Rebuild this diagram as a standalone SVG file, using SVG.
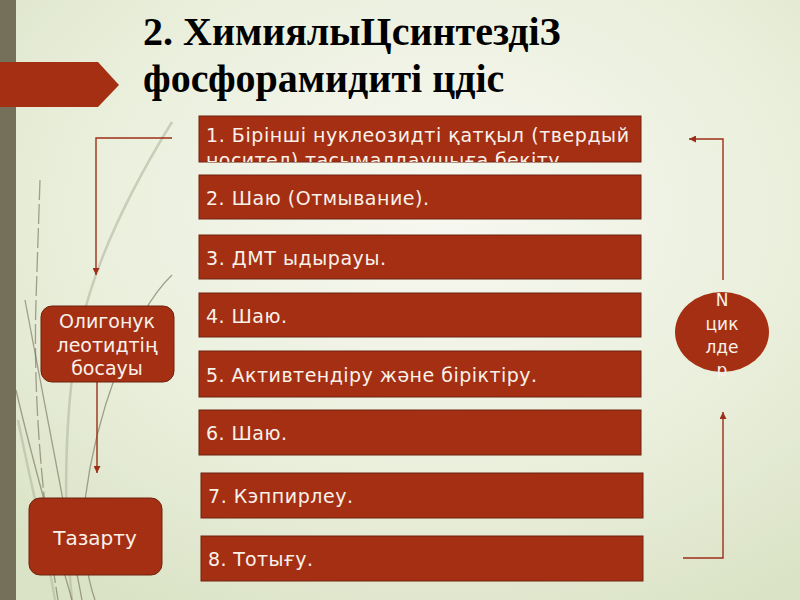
<svg xmlns="http://www.w3.org/2000/svg" width="800" height="600" viewBox="0 0 800 600">
<defs>
<radialGradient id="bg" cx="0.55" cy="0.35" r="0.75">
<stop offset="0" stop-color="#f7f8f1"/>
<stop offset="0.6" stop-color="#eaefdc"/>
<stop offset="1" stop-color="#dbe3c6"/>
</radialGradient>
<marker id="ah" viewBox="0 0 10 10" refX="10" refY="5" markerWidth="7" markerHeight="7" markerUnits="userSpaceOnUse" orient="auto">
<path d="M0,0 L10,5 L0,10 z" fill="#9c2f17"/>
</marker>
<clipPath id="c1"><rect x="199" y="116" width="442" height="46"/></clipPath>
</defs>
<style>
.box{fill:#a52f13;stroke:#6e2210;stroke-width:1}
.bt{font-family:"DejaVu Sans",Verdana,sans-serif;font-size:19px;fill:#f8f2ea}
.ct{font-family:"DejaVu Sans",Verdana,sans-serif;font-size:19px;fill:#f8f2ea;text-anchor:middle}
.con{fill:none;stroke:#9c2f17;stroke-width:1.4}
.deco{fill:none;stroke:#6f6b52;stroke-width:1.3;opacity:0.6}
.decol{fill:none;stroke:#b9bfa6;stroke-width:2.5;opacity:0.7}
.title{font-family:"Liberation Serif","Times New Roman",serif;font-size:40px;font-weight:bold;fill:#000}
</style>
<rect width="800" height="600" fill="url(#bg)"/>
<g id="decor">
<path class="decol" d="M172 122 C130 190 95 260 80 330 C65 400 62 500 72 600"/>
<path class="decol" d="M18 420 C30 480 45 540 55 600"/>
<path class="deco" d="M40 180 L36 300 C33 400 42 500 58 600" stroke-dasharray="20 4"/>
<path class="deco" d="M16 390 C30 450 52 530 72 600"/>
<path class="deco" d="M172 275 C130 315 95 420 85 500 C80 540 88 580 95 600"/>
<path class="deco" d="M25 300 C40 380 60 480 82 600"/>
<rect x="0" y="0" width="16" height="600" fill="#757059"/>
<polygon points="0,62 98,62 119,85 98,107 0,107" fill="#a52f13"/>
</g>
<g id="title">
<text class="title" x="143" y="45">2. ХимиялыЦсинтездіЗ</text>
<text class="title" x="143" y="92">фосфорамидиті цдіс</text>
</g>
<g id="connectors">
<polyline class="con" points="172,138 96,138 96,275" marker-end="url(#ah)"/>
<line class="con" x1="97" y1="382" x2="97" y2="473" marker-end="url(#ah)"/>
<polyline class="con" points="723,280 723,139 689,139" marker-end="url(#ah)"/>
<polyline class="con" points="683,558 723,558 723,412" marker-end="url(#ah)"/>
</g>
<g id="step1">
<rect class="box" x="199" y="116" width="442" height="46"/>
<g clip-path="url(#c1)">
<text class="bt" x="206" y="142" textLength="423" lengthAdjust="spacing">1. Бірінші нуклеозидті қатқыл (твердый</text>
<text class="bt" x="206" y="167" textLength="360" lengthAdjust="spacing">носител) тасымалдаушыға бекіту.</text>
</g>
</g>
<g id="step2">
<rect class="box" x="199" y="175" width="442" height="44"/>
<text class="bt" x="206" y="205" textLength="223" lengthAdjust="spacing">2. Шаю (Отмывание).</text>
</g>
<g id="step3">
<rect class="box" x="199" y="235" width="442" height="44"/>
<text class="bt" x="206" y="265" textLength="180" lengthAdjust="spacing">3. ДМТ ыдырауы.</text>
</g>
<g id="step4">
<rect class="box" x="199" y="293" width="442" height="44"/>
<text class="bt" x="206" y="323" textLength="81" lengthAdjust="spacing">4. Шаю.</text>
</g>
<g id="step5">
<rect class="box" x="199" y="351" width="442" height="46"/>
<text class="bt" x="206" y="382" textLength="331" lengthAdjust="spacing">5. Активтендіру және біріктіру.</text>
</g>
<g id="step6">
<rect class="box" x="199" y="410" width="442" height="45"/>
<text class="bt" x="206" y="440" textLength="81" lengthAdjust="spacing">6. Шаю.</text>
</g>
<g id="step7">
<rect class="box" x="201" y="473" width="442" height="45"/>
<text class="bt" x="208" y="503" textLength="145" lengthAdjust="spacing">7. Кэппирлеу.</text>
</g>
<g id="step8">
<rect class="box" x="201" y="536" width="442" height="45"/>
<text class="bt" x="208" y="566" textLength="105" lengthAdjust="spacing">8. Тотығу.</text>
</g>
<g id="release">
<rect class="box" x="41" y="306" width="133" height="76" rx="11"/>
<text class="ct" x="107" y="328">Олигонук</text>
<text class="ct" x="107" y="352">леотидтің</text>
<text class="ct" x="107" y="375">босауы</text>
</g>
<g id="purify">
<rect class="box" x="29" y="498" width="133" height="77" rx="11"/>
<text class="ct" x="95" y="545" style="font-size:20px">Тазарту</text>
</g>
<g id="cycles">
<ellipse cx="722" cy="332" rx="47" ry="40" fill="#a52f13"/>
<text class="ct" x="722" y="306" style="font-size:17px">N</text>
<text class="ct" x="722" y="330" style="font-size:17px">цик</text>
<text class="ct" x="722" y="353" style="font-size:17px">лде</text>
<text class="ct" x="722" y="376" style="font-size:17px">р</text>
</g>
</svg>
